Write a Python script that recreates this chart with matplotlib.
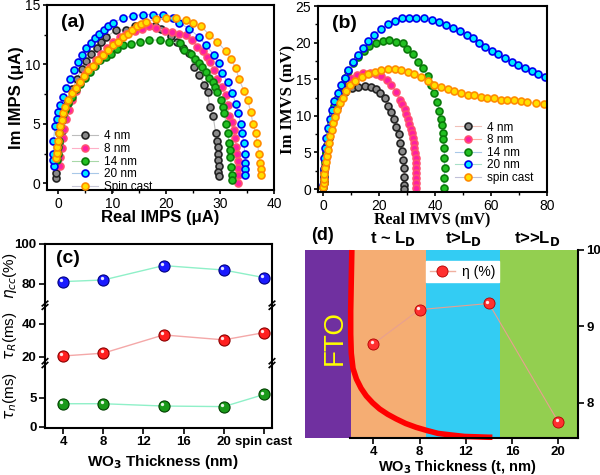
import numpy as np
import matplotlib
matplotlib.use("Agg")
import matplotlib.pyplot as plt
from matplotlib.ticker import MultipleLocator
from matplotlib.transforms import offset_copy

plt.rcParams['font.family'] = ['Liberation Sans', 'DejaVu Sans']
plt.rcParams['mathtext.fontset'] = 'dejavusans'

# ---------------- (a) IMPS ----------------
a4_x = [-0.4, -0.4, -0.3, -0.1, 0.2, 0.6, 1.1, 1.8, 2.6, 3.4, 4.3, 5.2, 6.1, 7.1, 8.0, 8.9, 10.7, 12.6, 14.2, 15.9,
        17.9, 19.0, 20.9, 22.0, 23.1, 24.2, 25.1, 26.1, 27.1, 27.7, 28.1, 28.7, 29.2, 29.5, 29.7, 29.6, 29.7, 29.8, 29.6, 29.8]
a4_y = [0.5, 0.9, 1.5, 2.3, 3.3, 4.4, 5.6, 6.8, 7.9, 8.8, 9.6, 10.3, 10.9, 11.4, 11.9, 12.3, 12.9, 12.9, 13.2, 13.4,
        13.2, 13.0, 12.4, 11.9, 11.4, 11.0, 9.8, 9.1, 8.3, 7.7, 6.4, 5.7, 4.2, 3.6, 3.1, 2.5, 2.0, 1.5, 1.0, 0.6]
a8_x = [0.3, 0.4, 0.6, 0.8, 1.1, 1.5, 2.0, 2.6, 3.3, 4.1, 5.0, 5.9, 6.9, 7.9, 9.0, 10.2, 11.4, 12.6, 14.2, 15.6,
        16.9, 18.2, 19.7, 21.0, 22.3, 23.7, 24.8, 25.8, 26.8, 27.6, 28.2, 28.9, 29.5, 30.3, 31.1, 31.4, 31.7, 32.3, 32.6, 32.8,
        33.0, 33.2, 33.3, 33.3, 33.3, 33.4]
a8_y = [1.5, 2.2, 3.0, 3.8, 4.6, 5.4, 6.2, 7.0, 7.8, 8.5, 9.2, 9.8, 10.4, 10.9, 11.4, 11.9, 12.3, 12.6, 12.8, 13.0,
        13.2, 13.1, 12.8, 12.7, 12.6, 12.5, 12.1, 11.5, 11.1, 10.6, 10.2, 9.5, 8.8, 8.1, 7.4, 6.6, 5.7, 5.2, 4.5, 3.8,
        3.1, 2.5, 1.9, 1.3, 0.7, 0.0]
a14_x = [-0.2, -0.1, 0.0, 0.1, 0.2, 0.4, 0.6, 0.9, 1.2, 1.8, 2.5, 3.2, 4.0, 4.9, 5.85, 6.8, 7.7, 8.8, 9.85, 10.9,
         12.0, 13.5, 15.1, 16.9, 18.8, 20.6, 22.5, 23.4, 24.6, 25.3, 26.0, 26.7, 27.4, 28.0, 28.6, 29.1, 29.5, 30.1, 30.5, 30.8,
         31.1, 31.4, 31.7, 31.8, 31.9, 32.1, 32.2, 32.3]
a14_y = [2.0, 2.5, 3.1, 3.6, 4.2, 4.8, 5.3, 5.8, 6.2, 6.8, 7.3, 7.9, 8.4, 8.9, 9.4, 9.9, 10.4, 10.6, 10.9, 11.3,
         11.6, 11.7, 11.9, 12.05, 12.05, 11.9, 11.8, 11.2, 10.9, 10.5, 10.1, 9.8, 9.4, 8.9, 8.5, 8.1, 7.7, 7.0, 6.4, 5.9,
         5.0, 4.2, 3.4, 2.8, 2.2, 1.4, 0.7, 0.3]
a20_x = [-0.8, -0.9, -0.9, -0.9, -0.6, -0.3, 0.0, 0.4, 0.9, 1.5, 2.2, 2.9, 3.7, 4.4, 5.2, 6.0, 6.8, 7.6, 8.4, 9.2,
         10.1, 12.0, 13.8, 15.7, 17.5, 19.4, 21.2, 22.4, 24.3, 26.1, 27.4, 28.9, 29.8, 30.4, 31.4, 32.3, 32.9, 33.4, 33.8, 34.1,
         34.4, 34.6, 34.7, 34.7, 34.7]
a20_y = [1.5, 2.0, 2.5, 3.6, 4.8, 5.4, 6.0, 6.6, 7.3, 8.0, 8.8, 9.5, 10.2, 10.8, 11.4, 11.8, 12.2, 12.6, 12.9, 13.2,
         13.5, 13.9, 14.1, 14.2, 14.2, 14.2, 13.9, 13.5, 13.0, 12.3, 11.6, 10.8, 10.1, 9.3, 8.5, 7.6, 6.7, 5.9, 5.0, 4.2,
         3.4, 2.5, 1.7, 1.2, 0.7]
asc_x = [-0.4, -0.3, -0.2, 0.0, 0.2, 0.4, 0.6, 0.9, 1.2, 1.8, 2.5, 3.2, 4.0, 4.7, 5.5, 6.4, 7.4, 8.3, 9.2, 10.1,
         11.1, 12.0, 12.9, 13.7, 14.5, 15.4, 16.3, 18.2, 20.0, 21.8, 23.7, 24.9, 26.5, 28.0, 29.5, 31.1, 32.0, 32.9, 33.5, 34.4,
         35.1, 35.7, 36.1, 36.6, 36.9, 37.2, 37.4, 37.5, 37.5]
asc_y = [2.1, 2.6, 3.1, 3.6, 4.2, 4.8, 5.3, 5.9, 6.4, 7.0, 7.6, 8.0, 8.5, 9.0, 9.5, 9.9, 10.4, 10.8, 11.2, 11.6,
         11.9, 12.3, 12.6, 12.9, 13.2, 13.4, 13.6, 13.8, 13.9, 13.9, 13.7, 13.5, 13.2, 12.5, 11.9, 11.1, 10.5, 9.7, 8.8, 7.8,
         7.0, 6.0, 5.0, 4.2, 3.4, 2.5, 1.7, 1.2, 0.7]

# ---------------- (b) IMVS ----------------
b4_x = [0.0, 0.1, 0.2, 0.3, 0.5, 0.7, 1.0, 1.4, 1.9, 2.5, 3.2, 4.0, 4.9, 5.9, 7.7, 10.1, 12.5, 14.8, 16.9, 18.8,
        20.4, 21.9, 23.1, 24.3, 25.3, 26.1, 26.9, 27.5, 28.2, 28.5, 28.8, 29.0, 29.0, 29.0]
b4_y = [0.3, 0.8, 1.5, 2.3, 3.1, 4.0, 5.0, 6.0, 7.0, 8.0, 9.0, 10.0, 11.2, 12.4, 13.3, 13.75, 14.0, 14.1, 14.0, 13.6,
        13.1, 12.4, 11.4, 10.5, 9.6, 8.5, 7.5, 6.3, 5.2, 4.0, 2.9, 1.7, 0.55, 0.0]
b8_x = [0.0, 0.1, 0.2, 0.4, 0.6, 0.9, 1.2, 1.6, 2.1, 2.7, 3.4, 4.1, 4.9, 5.9, 6.4, 7.1, 9.5, 11.9, 14.2, 16.6,
        18.8, 20.8, 22.8, 24.3, 26.1, 27.5, 28.3, 29.1, 29.6, 30.2, 30.8, 31.4, 31.7, 32.0, 32.3, 32.6, 32.8, 33.0, 33.0, 33.1,
        33.2, 33.2, 33.2, 33.2]
b8_y = [0.3, 0.9, 1.6, 2.4, 3.3, 4.3, 5.3, 6.3, 7.3, 8.3, 9.3, 10.3, 11.3, 12.3, 13.3, 14.2, 15.1, 15.6, 15.9, 15.8,
        15.7, 15.5, 14.9, 14.2, 13.3, 12.1, 11.6, 11.0, 10.3, 9.6, 8.9, 8.2, 7.6, 7.0, 6.3, 5.6, 4.9, 4.25, 3.6, 2.9,
        2.2, 1.5, 0.8, 0.1]
b14_x = [0.0, 0.1, 0.2, 0.4, 0.6, 0.9, 1.2, 1.6, 2.1, 2.7, 3.3, 4.0, 4.8, 5.9, 6.8, 7.8, 8.9, 10.6, 12.3, 14.7,
         16.5, 18.9, 21.2, 23.6, 26.0, 28.4, 30.1, 31.9, 33.7, 35.5, 37.3, 38.5, 39.7, 40.7, 41.5, 42.1, 42.4, 42.7, 42.9, 43.3,
         43.3, 43.4, 43.3, 43.0]
b14_y = [0.3, 1.0, 1.8, 2.7, 3.7, 4.8, 5.9, 7.0, 8.1, 9.2, 10.3, 11.3, 12.3, 13.2, 14.2, 15.1, 16.1, 17.2, 18.1, 18.8,
         19.5, 20.0, 20.2, 20.4, 20.1, 19.9, 19.1, 18.5, 17.4, 16.5, 15.4, 14.2, 13.1, 11.9, 10.7, 9.6, 8.7, 7.7, 6.8, 5.6,
         4.25, 2.9, 1.5, 0.1]
b20_x = [0.0, 0.1, 0.2, 0.4, 0.7, 1.1, 1.6, 2.3, 3.1, 4.0, 5.1, 6.3, 7.6, 9.0, 10.6, 12.3, 14.1, 16.0, 18.2, 20.6,
         23.0, 25.5, 28.0, 30.7, 33.3, 36.0, 38.7, 41.4, 44.0, 46.5, 49.0, 51.4, 53.6, 55.8, 58.0, 60.3, 62.6, 65.0, 67.4, 69.8,
         72.2, 74.6, 76.9, 79.2]
b20_y = [0.5, 1.5, 2.8, 4.2, 5.6, 7.0, 8.3, 9.6, 10.8, 12.0, 13.1, 14.2, 15.2, 16.2, 17.3, 18.3, 19.3, 20.2, 21.1, 21.9,
         22.5, 23.0, 23.3, 23.4, 23.4, 23.3, 23.1, 22.8, 22.4, 22.0, 21.6, 21.1, 20.6, 20.0, 19.4, 18.9, 18.4, 17.9, 17.4, 17.0,
         16.5, 16.1, 15.7, 15.3]
bsc_x = [0.0, 0.1, 0.2, 0.4, 0.6, 0.9, 1.2, 1.6, 2.0, 2.5, 3.0, 3.6, 4.3, 5.0, 5.9, 6.9, 8.1, 9.5, 11.3, 13.7,
         16.0, 18.4, 20.8, 23.1, 25.5, 27.9, 30.2, 32.6, 35.0, 37.3, 39.7, 42.1, 44.5, 46.8, 49.2, 51.6, 53.9, 56.3, 58.7, 61.1,
         63.5, 65.8, 68.2, 70.6, 72.9, 75.9, 78.9]
bsc_y = [0.3, 0.8, 1.4, 2.1, 2.9, 3.7, 4.5, 5.4, 6.3, 7.2, 8.1, 9.0, 9.9, 10.8, 11.7, 12.5, 13.4, 14.2, 14.7, 15.3,
         15.7, 16.0, 16.3, 16.4, 16.4, 16.3, 16.05, 15.7, 15.3, 14.7, 14.2, 13.9, 13.6, 13.4, 13.1, 12.9, 12.8, 12.6, 12.5, 12.4,
         12.2, 12.1, 12.1, 12.0, 11.9, 11.7, 11.6]

# ---------------- (c) ----------------
c_x = [4, 8, 14, 20, 24]
c_ticks = [4, 8, 12, 16, 20, 24]
c_ticklabels = ['4', '8', '12', '16', '20', 'spin cast']
eta_cc = [81.2, 82.0, 89.2, 87.0, 83.2]
tau_R = [20.5, 22.2, 33.3, 30.3, 34.7]
tau_n = [4.0, 4.0, 3.6, 3.5, 5.6]

# ---------------- (d) ----------------
d_x = [4, 8, 14, 20]
d_eta = [8.77, 9.22, 9.30, 7.75]
band_edges = [-1.9, 2.1, 8.6, 15.0, 21.7]
band_colors = ['#7030A0', '#F5AD73', '#33CCF3', '#93CF50']
band_titles = ['t ~ L$_\\mathbf{D}$', 't>L$_\\mathbf{D}$', 't>>L$_\\mathbf{D}$']
band_title_x = [5.7, 11.8, 18.2]
curve_x = [2.15, 2.1, 2.05, 2.05, 2.1, 2.25, 2.55, 2.95, 3.4, 3.95, 4.55, 5.25, 5.98, 6.8, 7.7, 8.6, 9.6, 10.7,
           11.9, 13.0, 14.0, 14.3]
curve_y = [10.0, 9.6, 9.2, 8.9, 8.65, 8.45, 8.31, 8.19, 8.09, 8.0, 7.92, 7.85, 7.79, 7.73, 7.68, 7.64, 7.6, 7.58,
           7.56, 7.555, 7.55, 7.55]

fig = plt.figure(figsize=(6, 4.75), dpi=100)


def style_frame(ax, lw=1.5):
    for s in ax.spines.values():
        s.set_linewidth(lw)
    ax.tick_params(which='major', direction='out', length=3, width=1.2, labelsize=10, pad=2)
    ax.tick_params(which='minor', direction='out', length=2, width=1.0)


# panel a
ax_a = fig.add_axes([47 / 600, 1 - 190 / 475, 227 / 600, 185 / 475])
series_a = [
    (a4_x, a4_y, '4 nm', '#8a8a8a', '#222222', '#bdbdbd'),
    (a8_x, a8_y, '8 nm', '#ff1fa0', '#ff5070', '#ffb0c8'),
    (a14_x, a14_y, '14 nm', '#22c022', '#0a7a0a', '#a8d8a8'),
    (a20_x, a20_y, '20 nm', '#00eaff', '#0000ee', '#a8c8e8'),
    (asc_x, asc_y, 'Spin cast', '#ffe000', '#ff8c00', '#c8c8d8'),
]
for x, y, lab, fc, ec, lc in series_a:
    ax_a.plot(x, y, '-o', color=lc, lw=0.8, ms=5, mfc=fc, mec=ec, mew=1.2, label=lab)
ax_a.set_xlim(-2.1, 40.0)
ax_a.set_ylim(-0.55, 15)
ax_a.xaxis.set_major_locator(MultipleLocator(10))
ax_a.xaxis.set_minor_locator(MultipleLocator(5))
ax_a.yaxis.set_major_locator(MultipleLocator(5))
ax_a.yaxis.set_minor_locator(MultipleLocator(2.5))
style_frame(ax_a)
ax_a.set_xlabel('Real IMPS (\u03bcA)', fontsize=12, fontweight='bold')
ax_a.set_ylabel('Im IMPS (\u03bcA)', fontsize=12, fontweight='bold')
ax_a.xaxis.set_label_coords(0.5, -0.108)
ax_a.yaxis.set_label_coords(-0.1, 0.5)
ax_a.text(0.06, 0.95, '(a)', transform=ax_a.transAxes, fontsize=14, fontweight='bold', va='top')
ax_a.legend(loc='upper left', bbox_to_anchor=(0.08, 0.36), frameon=False, fontsize=8.5,
            handlelength=2.2, labelspacing=0.05, borderpad=0.1, handletextpad=0.5)

# panel b
ax_b = fig.add_axes([318 / 600, 1 - 192 / 475, 229 / 600, 186 / 475])
series_b = [
    (b4_x, b4_y, '4 nm', '#8a8a8a', '#222222', '#f0c0b8'),
    (b8_x, b8_y, '8 nm', '#ff1fa0', '#ff5070', '#ffb0a0'),
    (b14_x, b14_y, '14 nm', '#22c022', '#0a7a0a', '#a8c8e8'),
    (b20_x, b20_y, '20 nm', '#00eaff', '#0000ee', '#a8e0c8'),
    (bsc_x, bsc_y, 'spin cast', '#ffe000', '#ff8c00', '#c0c0d8'),
]
for x, y, lab, fc, ec, lc in series_b:
    ax_b.plot(x, y, '-o', color=lc, lw=0.8, ms=5, mfc=fc, mec=ec, mew=1.2, label=lab)
ax_b.set_xlim(-1.9, 80.0)
ax_b.set_ylim(-0.4, 25)
ax_b.xaxis.set_major_locator(MultipleLocator(20))
ax_b.xaxis.set_minor_locator(MultipleLocator(10))
ax_b.yaxis.set_major_locator(MultipleLocator(5))
ax_b.yaxis.set_minor_locator(MultipleLocator(2.5))
style_frame(ax_b)
ax_b.set_xlabel('Real IMVS (mV)', fontsize=11.5, fontweight='bold', family='Liberation Serif')
ax_b.set_ylabel('Im IMVS (mV)', fontsize=12, fontweight='bold', family='Liberation Serif')
ax_b.xaxis.set_label_coords(0.5, -0.105)
ax_b.yaxis.set_label_coords(-0.095, 0.5)
ax_b.text(0.06, 0.95, '(b)', transform=ax_b.transAxes, fontsize=14, fontweight='bold', va='top')
ax_b.legend(loc='lower right', bbox_to_anchor=(0.97, 0.005), frameon=False, fontsize=8.5,
            handlelength=2.2, labelspacing=0.05, borderpad=0.1, handletextpad=0.5)


def sphere(ax, x, y, color, edge, line, size=8):
    ax.plot(x, y, '-', color=line, lw=1.0, zorder=2)
    ax.plot(x, y, 'o', ms=size, mfc=color, mec=edge, mew=0.8, zorder=3, clip_on=False)
    hl = offset_copy(ax.transData, fig=ax.figure, x=-1.2, y=1.4, units='points')
    ax.plot(x, y, 'o', ms=size * 0.3, mfc='white', mec='none', alpha=0.9, zorder=4,
            transform=hl, clip_on=False)


# panel c (broken axis, three stacked parts)
cl = 45 / 600
cw = 227 / 600
ax_c1 = fig.add_axes([cl, 1 - 307 / 475, cw, 63 / 475])
ax_c2 = fig.add_axes([cl, 1 - 365 / 475, cw, 58 / 475])
ax_c3 = fig.add_axes([cl, 1 - 428 / 475, cw, 63 / 475])
sphere(ax_c1, c_x, eta_cc, '#1a1aff', '#000080', '#8ff0c8')
sphere(ax_c2, c_x, tau_R, '#ff2020', '#8b0000', '#f4a8a8')
sphere(ax_c3, c_x, tau_n, '#1a9a1a', '#004000', '#8ff0c8')
ax_c1.set_ylim(68.5, 100)
ax_c1.set_yticks([80, 100])
ax_c2.set_ylim(15, 50.3)
ax_c2.set_yticks([20, 40])
ax_c3.set_ylim(-0.2, 10.7)
ax_c3.set_yticks([0, 5])
for ax in (ax_c1, ax_c2, ax_c3):
    ax.set_xlim(2.2, 24.8)
    ax.set_xticks(c_ticks)
    for s in ax.spines.values():
        s.set_linewidth(1.5)
    ax.tick_params(direction='out', length=4, width=1.2, labelsize=9.5, pad=2)
    for t in ax.get_yticklabels():
        t.set_fontweight('bold')
ax_c1.spines['bottom'].set_visible(False)
ax_c2.spines['top'].set_visible(False)
ax_c2.spines['bottom'].set_visible(False)
ax_c3.spines['top'].set_visible(False)
ax_c1.tick_params(axis='x', bottom=False, labelbottom=False)
ax_c2.tick_params(axis='x', bottom=False, labelbottom=False)
ax_c3.set_xticklabels(c_ticklabels, fontweight='bold')
ax_c3.set_xlabel('WO$_\\mathbf{3}$ Thickness (nm)', fontsize=11, fontweight='bold')
ax_c3.xaxis.set_label_coords(0.52, -0.40)
ax_c1.set_ylabel('$\\eta_{cc}$(%)', fontsize=11)
ax_c2.set_ylabel('$\\tau_R$(ms)', fontsize=11)
ax_c3.set_ylabel('$\\tau_n$(ms)', fontsize=11)
for ax in (ax_c1, ax_c2, ax_c3):
    ax.yaxis.set_label_coords(-0.115, 0.5)
ax_c1.text(0.05, 0.9, '(c)', transform=ax_c1.transAxes, fontsize=14, fontweight='bold', va='top')
# break marks
for ax in (ax_c2, ax_c3):
    for xa in (0, 1):
        ax.plot([xa - 0.012, xa + 0.012], [0.96, 1.04], transform=ax.transAxes, color='k', lw=1.2, clip_on=False)
        ax.plot([xa - 0.012, xa + 0.012], [1.02, 1.10], transform=ax.transAxes, color='k', lw=1.2, clip_on=False)

# panel d
ax_d = fig.add_axes([305 / 600, 1 - 438 / 475, 273 / 600, 188 / 475])
for i, c in enumerate(band_colors):
    ax_d.axvspan(band_edges[i], band_edges[i + 1], color=c, lw=0, zorder=0)
ax_d.plot(curve_x, curve_y, '-', color='#ff0000', lw=4, solid_capstyle='butt', zorder=2, clip_on=False)
ax_d.plot(d_x, d_eta, '-', color='#e8a090', lw=0.8, zorder=3)
ax_d.plot(d_x, d_eta, 'o', ms=8, mfc='#ff3030', mec='#b00000', mew=0.6, zorder=4)
hl = offset_copy(ax_d.transData, fig=fig, x=-1.2, y=1.4, units='points')
ax_d.plot(d_x, d_eta, 'o', ms=2.4, mfc='white', mec='none', alpha=0.9, zorder=5, transform=hl)
# legend proxy (line + sphere)
ax_d.plot([], [], '-o', color='#f0b0a0', lw=1.0, ms=8, mfc='#ff3030', mec='#b00000', mew=0.6, label='\u03b7 (%)')
ax_d.set_xlim(band_edges[0], band_edges[-1])
ax_d.set_ylim(7.54, 10.0)
ax_d.set_xticks([4, 8, 12, 16, 20])
ax_d.set_yticks([8, 9, 10])
ax_d.yaxis.tick_right()
ax_d.spines['left'].set_visible(False)
ax_d.spines['top'].set_visible(False)
ax_d.spines['bottom'].set_bounds(2.0, band_edges[-1])
ax_d.spines['bottom'].set_linewidth(1.5)
ax_d.spines['right'].set_linewidth(1.5)
ax_d.tick_params(direction='out', length=4, width=1.2, labelsize=9.5, pad=2)
for t in ax_d.get_xticklabels() + ax_d.get_yticklabels():
    t.set_fontweight('bold')
ax_d.set_xlabel('WO$_\\mathbf{3}$ Thickness (t, nm)', fontsize=10.5, fontweight='bold')
ax_d.xaxis.set_label_coords(0.557, -0.105)
ax_d.text(0.7, 8.86, 'FTO', color='#ffff00', fontsize=20, rotation=90, ha='center', va='center')
for xc, t in zip(band_title_x, band_titles):
    ax_d.text(xc, 1.063, t, transform=ax_d.get_xaxis_transform(), ha='center', va='center',
              fontsize=12, fontweight='bold')
ax_d.text(-0.4, 1.075, '(d)', transform=ax_d.get_xaxis_transform(), ha='center', va='center',
          fontsize=13, fontweight='bold')
leg = ax_d.legend(loc='upper left', bbox_to_anchor=(0.445, 0.94), fontsize=10, frameon=True,
                  fancybox=False, handlelength=1.8, borderpad=0.25, handletextpad=0.5, borderaxespad=0)
leg.get_frame().set_facecolor('white')
leg.get_frame().set_edgecolor('white')
leg.get_frame().set_alpha(1)

fig.savefig('out.png', dpi=100)
